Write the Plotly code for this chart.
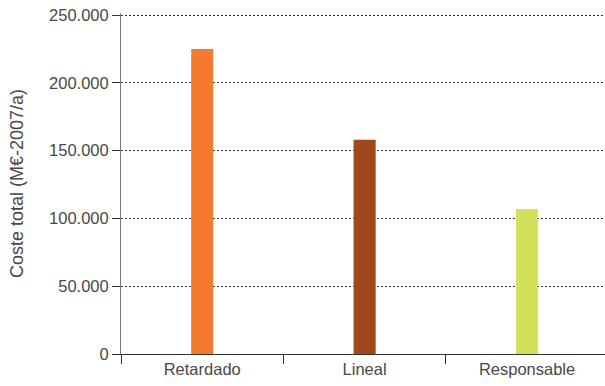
import plotly.graph_objects as go

categories = ["Retardado", "Lineal", "Responsable"]
values = [225000, 158000, 107000]
colors = ["#F47B2E", "#A0481C", "#D4E05A"]
y_ticks = [0, 50000, 100000, 150000, 200000, 250000]

font_family = "Liberation Sans, Arial, sans-serif"
text_color = "#484848"

fig = go.Figure()
fig.add_trace(go.Bar(
    x=categories, y=values, marker=dict(color=colors, line=dict(width=0)),
    width=0.136, showlegend=False,
))

fig.update_layout(
    width=605, height=386,
    margin=dict(l=121, r=0, t=13, b=32),
    paper_bgcolor="white", plot_bgcolor="white",
    separators=",.",
    font=dict(family=font_family, size=16.5, color=text_color),
)
fig.update_xaxes(
    type="category", range=[-0.5, 2.48],
    showline=True, linecolor="#333333", linewidth=1,
    ticks="outside", ticklen=9, tickcolor="#333333", tickson="boundaries",
    showgrid=False, zeroline=False,
    tickfont=dict(size=16.5, color=text_color),
)
fig.update_yaxes(
    range=[0, 251500], tickvals=y_ticks, tickformat=",d",
    showline=True, linecolor="#777777", linewidth=1,
    ticks="outside", ticklen=8, tickcolor="#333333",
    showgrid=True, gridcolor="#333333", gridwidth=1, griddash="2px,2px",
    zeroline=False,
    tickfont=dict(size=16.5, color=text_color),
    title=dict(text="Coste total (M€-2007/a)", standoff=20,
               font=dict(size=18, color=text_color)),
)

fig.write_html("out.html")
